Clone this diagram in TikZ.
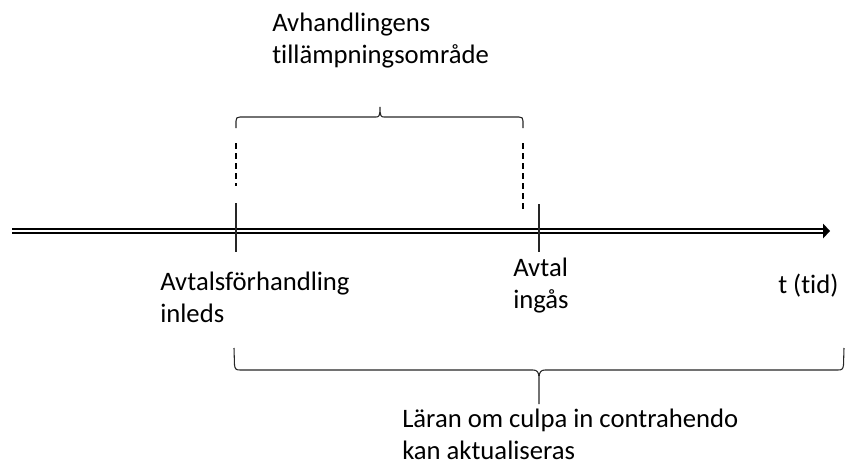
\documentclass[tikz,border=0pt]{standalone}
\usepackage{fontspec}
\setmainfont{Carlito}[Ligatures=NoCommon]
\begin{document}
\begin{tikzpicture}[x=0.75pt,y=-0.75pt,
  lbl/.style={anchor=base west,inner sep=0pt,align=left,
    font=\fontsize{20}{23.5}\selectfont},
  tick/.style={line width=0.8pt,black!85},
  guide/.style={line width=0.8pt,dash pattern=on 4.5pt off 3pt},
  bracepath/.style={line width=0.8pt,black!85},
  timeline/.style={double=white,double distance=1.3pt,line width=1.9pt}]
\useasboundingbox (0,0) rectangle (847,465);

% time axis
\coordinate (axL) at (12,231);
\coordinate (axR) at (823,231);
\coordinate (tip) at (830,231);
\draw[timeline,line cap=butt] (axL) -- (axR);
\fill (axR) ++(0,-7.5) -- (tip) -- (823,238.5) -- cycle;

% ticks on the axis
\coordinate (start) at (236,231);
\coordinate (sign) at (539,231);
\draw[tick] (start) ++(0,-28) -- ++(0,49);
\draw[tick] (sign) ++(0,-27) -- ++(0,48);

% dashed guides below the upper brace
\coordinate (gL1) at (236,143);
\coordinate (gL2) at (236,186);
\coordinate (gR1) at (523,143);
\coordinate (gR2) at (523,213);
\draw[guide] (gL1) -- (gL2);
\draw[guide] (gR1) -- (gR2);

% upper brace
\coordinate (ubL) at (236,128);
\coordinate (ubM) at (380,107);
\coordinate (ubR) at (523,128);
\draw[bracepath] (ubL) -- (236,121) .. controls (236,118) and (237,117) .. (240,117)
  -- (376,117) .. controls (379,117) and (380,116) .. (ubM)
  .. controls (380,116) and (381,117) .. (384,117)
  -- (519,117) .. controls (522,117) and (523,118) .. (523,121) -- (ubR);

% lower brace
\coordinate (lbL) at (234,348);
\coordinate (lbM) at (539,404);
\coordinate (lbR) at (844,348);
\draw[bracepath] (lbL) -- (234.5,365) .. controls (235,369) and (236,370) .. (240,370)
  -- (533,370) .. controls (537,370) and (539,372) .. (539,378) -- (lbM)
  (539,378) .. controls (539,372) and (541,370) .. (545,370)
  -- (838,370) .. controls (842,370) and (843,369) .. (843.5,365) -- (lbR);

% labels (anchored at the baseline of their last line)
\node[lbl] (scope) at (272,63) {Avhandlingens\\tillämpningsområde};
\node[lbl] (begin) at (160,322) {Avtalsförhandling\\inleds};
\node[lbl] (concl) at (513,308) {Avtal\\ingås};
\node[lbl] (time) at (778,293) {t (tid)};
\node[lbl] (culpa) at (402,459) {Läran om culpa in contrahendo\\kan aktualiseras};
\end{tikzpicture}
\end{document}
